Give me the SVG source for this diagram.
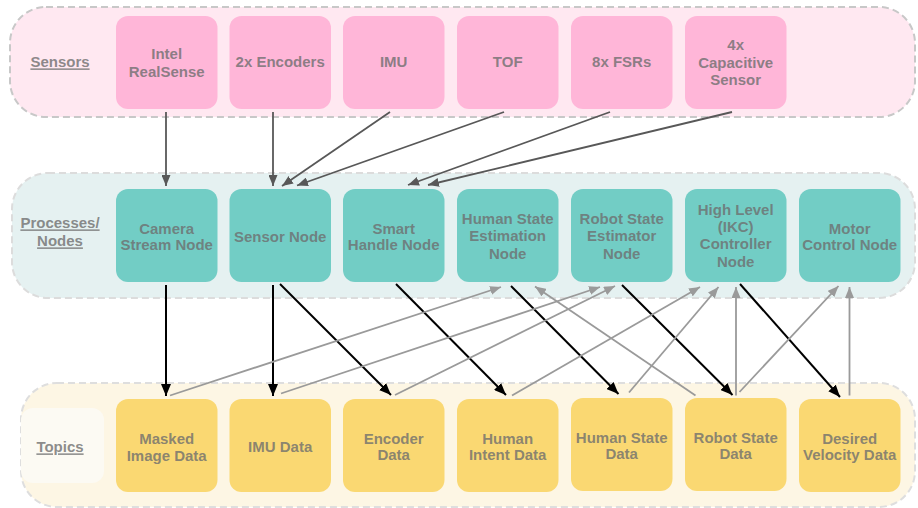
<svg xmlns="http://www.w3.org/2000/svg" width="918" height="508" viewBox="0 0 918 508">
<defs>
<style>
text{font-family:"Liberation Sans",Arial,Helvetica,sans-serif;font-weight:bold;font-size:15px;text-anchor:middle;fill:#6e6e6e;fill-opacity:0.8}
.lbl{text-decoration:underline}
.lane{stroke-width:2;stroke-dasharray:7 4}
.sen{fill:#ffb6d8}
.proc{fill:#72cdc5}
.top{fill:#fad872}
.c1{stroke:#585858;stroke-width:1.8;fill:none;marker-end:url(#aDark)}
.c2{stroke:#000;stroke-width:2;fill:none;marker-end:url(#aBlack)}
.c3{stroke:#9a9a9a;stroke-width:1.8;fill:none;marker-end:url(#aGray)}
</style>
<marker id="aDark" markerUnits="userSpaceOnUse" markerWidth="12" markerHeight="9" refX="11" refY="4.5" orient="auto"><path d="M0,0 L11,4.5 L0,9 z" fill="#585858"/></marker>
<marker id="aBlack" markerUnits="userSpaceOnUse" markerWidth="13" markerHeight="10" refX="12" refY="5" orient="auto"><path d="M0,0 L12,5 L0,10 z" fill="#000"/></marker>
<marker id="aGray" markerUnits="userSpaceOnUse" markerWidth="12" markerHeight="9" refX="11" refY="4.5" orient="auto"><path d="M0,0 L11,4.5 L0,9 z" fill="#9a9a9a"/></marker>
</defs>

<g id="lane-sensors">
<rect class="lane" x="10" y="7" width="905" height="110" rx="36" fill="#ffe8f1" stroke="#c8c8c8"/>
<text class="lbl" x="60" y="67.4">Sensors</text>
</g>
<g id="lane-processes">
<rect class="lane" x="12" y="173" width="903" height="125" rx="36" fill="#e5f1f1" stroke="#dcdcdc"/>
<text class="lbl" x="60" y="228.4">Processes/</text>
<text class="lbl" x="60" y="246.4">Nodes</text>
</g>
<g id="lane-topics">
<rect class="lane" x="21" y="383" width="894" height="124" rx="36" fill="#fdf6e4" stroke="#dedede"/>
<rect x="21" y="408" width="83" height="75" rx="12" fill="#fcfaf3"/>
<text class="lbl" x="60" y="452.4">Topics</text>
</g>

<g id="connectors">
<line class="c1" x1="166" y1="112" x2="166" y2="186"/>
<line class="c1" x1="273" y1="112" x2="273" y2="186"/>
<line class="c1" x1="390" y1="112" x2="282" y2="186"/>
<line class="c1" x1="504" y1="112" x2="297" y2="185.5"/>
<line class="c1" x1="610" y1="112" x2="408" y2="185"/>
<line class="c1" x1="732" y1="112" x2="428" y2="185"/>

<line class="c2" x1="166" y1="285" x2="166" y2="396"/>
<line class="c2" x1="273" y1="285" x2="273" y2="396"/>
<line class="c2" x1="280" y1="284" x2="391" y2="395"/>
<line class="c2" x1="396" y1="284" x2="506" y2="395"/>
<line class="c2" x1="511" y1="286" x2="618.5" y2="394"/>
<line class="c2" x1="622" y1="285" x2="732.5" y2="395"/>
<line class="c2" x1="740" y1="284" x2="840" y2="397"/>

<line class="c3" x1="170" y1="395.5" x2="501" y2="287"/>
<line class="c3" x1="281" y1="393.5" x2="600" y2="287"/>
<line class="c3" x1="395" y1="395" x2="615" y2="286"/>
<line class="c3" x1="512" y1="395.5" x2="700" y2="287"/>
<line class="c3" x1="629" y1="392.5" x2="718.5" y2="287"/>
<line class="c3" x1="695.5" y1="395.5" x2="535" y2="286.5"/>
<line class="c3" x1="736" y1="395.5" x2="736" y2="287"/>
<line class="c3" x1="739.5" y1="392" x2="838.5" y2="286"/>
<line class="c3" x1="849.5" y1="395.5" x2="849.5" y2="287"/>
</g>

<g id="sensor-realsense"><rect class="sen" x="116" y="16" width="101.5" height="93" rx="12"/><text x="166.7" y="59.4">Intel</text><text x="166.7" y="77.1">RealSense</text></g>
<g id="sensor-encoders"><rect class="sen" x="229.5" y="16" width="101.5" height="93" rx="12"/><text x="280.2" y="67.4">2x Encoders</text></g>
<g id="sensor-imu"><rect class="sen" x="343" y="16" width="101.5" height="93" rx="12"/><text x="393.7" y="67.4">IMU</text></g>
<g id="sensor-tof"><rect class="sen" x="457" y="16" width="101.5" height="93" rx="12"/><text x="507.7" y="67.4">TOF</text></g>
<g id="sensor-fsrs"><rect class="sen" x="571" y="16" width="101.5" height="93" rx="12"/><text x="621.7" y="67.4">8x FSRs</text></g>
<g id="sensor-capacitive"><rect class="sen" x="685" y="16" width="101.5" height="93" rx="12"/><text x="735.7" y="50.4">4x</text><text x="735.7" y="67.9">Capacitive</text><text x="735.7" y="85.4">Sensor</text></g>

<g id="node-camera"><rect class="proc" x="116" y="189" width="101.5" height="93" rx="12"/><text x="166.7" y="233.7">Camera</text><text x="166.7" y="250.4">Stream Node</text></g>
<g id="node-sensor"><rect class="proc" x="229.5" y="189" width="101.5" height="93" rx="12"/><text x="280.2" y="241.7">Sensor Node</text></g>
<g id="node-smarthandle"><rect class="proc" x="343" y="189" width="101.5" height="93" rx="12"/><text x="393.7" y="233.7">Smart</text><text x="393.7" y="250.4">Handle Node</text></g>
<g id="node-humanstate"><rect class="proc" x="457" y="189" width="101.5" height="93" rx="12"/><text x="507.7" y="223.7">Human State</text><text x="507.7" y="241.4">Estimation</text><text x="507.7" y="259.1">Node</text></g>
<g id="node-robotstate"><rect class="proc" x="571" y="189" width="101.5" height="93" rx="12"/><text x="621.7" y="223.7">Robot State</text><text x="621.7" y="241.4">Estimator</text><text x="621.7" y="259.1">Node</text></g>
<g id="node-highlevel"><rect class="proc" x="685" y="189" width="101.5" height="93" rx="12"/><text x="735.7" y="214.7">High Level</text><text x="735.7" y="232.1">(IKC)</text><text x="735.7" y="249.4">Controller</text><text x="735.7" y="267.1">Node</text></g>
<g id="node-motor"><rect class="proc" x="799" y="189" width="101.5" height="93" rx="12"/><text x="849.7" y="233.7">Motor</text><text x="849.7" y="250.4">Control Node</text></g>

<g id="topic-masked"><rect class="top" x="116" y="399" width="101.5" height="93" rx="12"/><text x="166.7" y="443.7">Masked</text><text x="166.7" y="460.7">Image Data</text></g>
<g id="topic-imu"><rect class="top" x="229.5" y="399" width="101.5" height="93" rx="12"/><text x="280.2" y="451.7">IMU Data</text></g>
<g id="topic-encoder"><rect class="top" x="343" y="399" width="101.5" height="93" rx="12"/><text x="393.7" y="443.7">Encoder</text><text x="393.7" y="460.4">Data</text></g>
<g id="topic-humanintent"><rect class="top" x="457" y="399" width="101.5" height="93" rx="12"/><text x="507.7" y="443.7">Human</text><text x="507.7" y="460.4">Intent Data</text></g>
<g id="topic-humanstate"><rect class="top" x="571" y="398" width="101.5" height="93" rx="12"/><text x="621.7" y="442.7">Human State</text><text x="621.7" y="459.4">Data</text></g>
<g id="topic-robotstate"><rect class="top" x="685" y="398" width="101.5" height="93" rx="12"/><text x="735.7" y="442.7">Robot State</text><text x="735.7" y="459.4">Data</text></g>
<g id="topic-velocity"><rect class="top" x="799" y="399" width="101.5" height="93" rx="12"/><text x="849.7" y="443.7">Desired</text><text x="849.7" y="460.4">Velocity Data</text></g>
</svg>
